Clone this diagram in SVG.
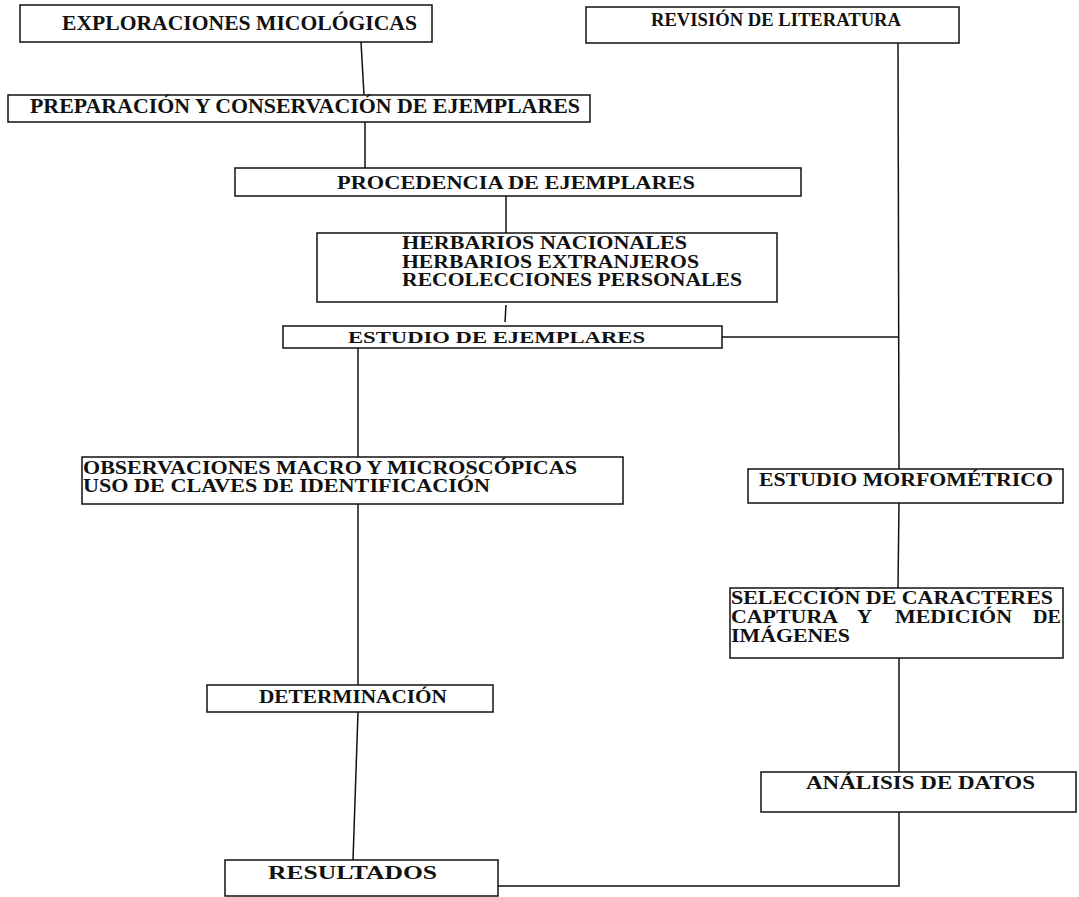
<svg xmlns="http://www.w3.org/2000/svg" width="1079" height="897" viewBox="0 0 1079 897">
<style>
.box{fill:#fff;stroke:#111;stroke-width:1.5}
.t{font-family:"Liberation Serif","Times New Roman",serif;font-weight:bold;fill:#111}
.c{fill:none;stroke:#111;stroke-width:1.5}
</style>
<rect width="1079" height="897" fill="#fff"/>
<g id="connectors">
<path class="c" d="M361 42 L364 95"/>
<path class="c" d="M365 122 L365 168"/>
<path class="c" d="M506 196 L506 233"/>
<path class="c" d="M506 305 L505 322"/>
<path class="c" d="M358 348 L358 457"/>
<path class="c" d="M358 504 L358 685"/>
<path class="c" d="M358 712 L353 860"/>
<path class="c" d="M898 43 L899 469"/>
<path class="c" d="M722 337 L899 337"/>
<path class="c" d="M899 503 L898 588"/>
<path class="c" d="M899 658 L899 772"/>
<path class="c" d="M899 812 L899 886 L498 886"/>
</g>
<g id="n-exploraciones">
<rect class="box" x="20" y="5" width="412" height="37"/>
<text class="t" x="62" y="30" font-size="22" textLength="355" lengthAdjust="spacingAndGlyphs">EXPLORACIONES MICOLÓGICAS</text>
</g>
<g id="n-revision">
<rect class="box" x="586" y="7" width="373" height="36"/>
<text class="t" x="651" y="26" font-size="19" textLength="250" lengthAdjust="spacingAndGlyphs">REVISIÓN DE LITERATURA</text>
</g>
<g id="n-preparacion">
<rect class="box" x="8" y="95" width="582" height="27"/>
<text class="t" x="30" y="113" font-size="20" textLength="550" lengthAdjust="spacingAndGlyphs">PREPARACIÓN Y CONSERVACIÓN DE EJEMPLARES</text>
</g>
<g id="n-procedencia">
<rect class="box" x="235" y="168" width="566" height="28"/>
<text class="t" x="337" y="189" font-size="19" textLength="358" lengthAdjust="spacingAndGlyphs">PROCEDENCIA DE EJEMPLARES</text>
</g>
<g id="n-herbarios">
<rect class="box" x="317" y="233" width="460" height="69"/>
<text class="t" x="402" y="249" font-size="18" textLength="285" lengthAdjust="spacingAndGlyphs">HERBARIOS NACIONALES</text>
<text class="t" x="402" y="268" font-size="18" textLength="297" lengthAdjust="spacingAndGlyphs">HERBARIOS EXTRANJEROS</text>
<text class="t" x="402" y="286" font-size="18" textLength="340" lengthAdjust="spacingAndGlyphs">RECOLECCIONES PERSONALES</text>
</g>
<g id="n-estudio">
<rect class="box" x="283" y="326" width="439" height="22"/>
<text class="t" x="348" y="343" font-size="17" textLength="297" lengthAdjust="spacingAndGlyphs">ESTUDIO DE EJEMPLARES</text>
</g>
<g id="n-observaciones">
<rect class="box" x="82" y="457" width="541" height="47"/>
<text class="t" x="83" y="474" font-size="18" textLength="494" lengthAdjust="spacingAndGlyphs">OBSERVACIONES MACRO Y MICROSCÓPICAS</text>
<text class="t" x="83" y="492" font-size="18" textLength="407" lengthAdjust="spacingAndGlyphs">USO DE CLAVES DE IDENTIFICACIÓN</text>
</g>
<g id="n-morfometrico">
<rect class="box" x="748" y="469" width="315" height="34"/>
<text class="t" x="759" y="486" font-size="18" textLength="294" lengthAdjust="spacingAndGlyphs">ESTUDIO MORFOMÉTRICO</text>
</g>
<g id="n-seleccion">
<rect class="box" x="730" y="588" width="333" height="70"/>
<text class="t" x="731" y="604" font-size="18" textLength="322" lengthAdjust="spacingAndGlyphs">SELECCIÓN DE CARACTERES</text>
<text class="t" x="731" y="623" font-size="18"><tspan x="731" textLength="107" lengthAdjust="spacingAndGlyphs">CAPTURA</tspan><tspan x="857" textLength="15" lengthAdjust="spacingAndGlyphs">Y</tspan><tspan x="895" textLength="117" lengthAdjust="spacingAndGlyphs">MEDICIÓN</tspan><tspan x="1033" textLength="28" lengthAdjust="spacingAndGlyphs">DE</tspan></text>
<text class="t" x="731" y="642" font-size="18" textLength="119" lengthAdjust="spacingAndGlyphs">IMÁGENES</text>
</g>
<g id="n-determinacion">
<rect class="box" x="207" y="685" width="286" height="27"/>
<text class="t" x="259" y="703" font-size="19" textLength="188" lengthAdjust="spacingAndGlyphs">DETERMINACIÓN</text>
</g>
<g id="n-analisis">
<rect class="box" x="761" y="772" width="315" height="40"/>
<text class="t" x="806" y="789" font-size="19" textLength="229" lengthAdjust="spacingAndGlyphs">ANÁLISIS DE DATOS</text>
</g>
<g id="n-resultados">
<rect class="box" x="225" y="860" width="273" height="36"/>
<text class="t" x="268" y="879" font-size="19" textLength="169" lengthAdjust="spacingAndGlyphs">RESULTADOS</text>
</g>
</svg>
